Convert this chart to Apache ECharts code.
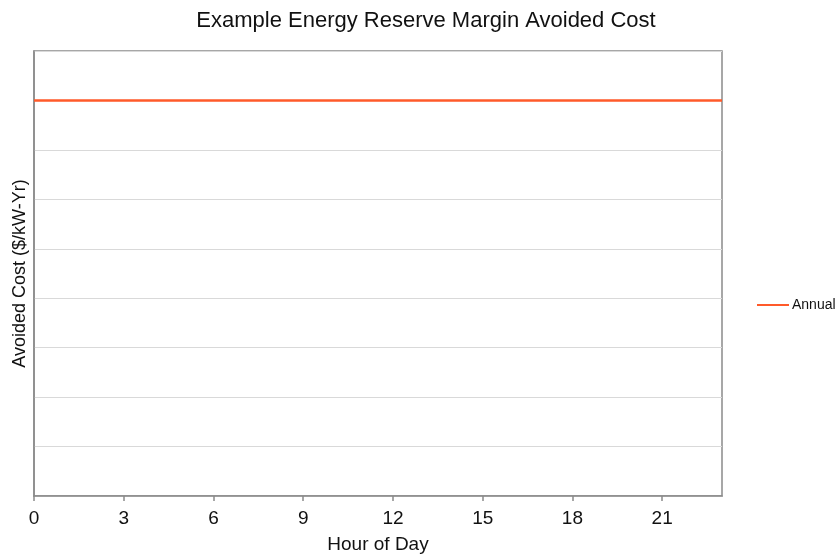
<!DOCTYPE html>
<html>
<head>
<meta charset="utf-8">
<script src="https://cdn.jsdelivr.net/npm/echarts@6/dist/echarts.min.js"></script>
<style>html,body{margin:0;padding:0;background:#fff;}#c{width:839px;height:557px;}</style>
</head>
<body>
<div id="c"></div>
<script>
const hours = ['0','1','2','3','4','5','6','7','8','9','10','11','12','13','14','15','16','17','18','19','20','21','22','23'];
const annual = [8,8,8,8,8,8,8,8,8,8,8,8,8,8,8,8,8,8,8,8,8,8,8,8];
const seriesName = 'Annual';

const chart = echarts.init(document.getElementById('c'), null, {renderer:'canvas'});
chart.setOption({
  animation: false,
  textStyle: {fontFamily: 'Liberation Sans, Arial, sans-serif'},
  title: {
    text: 'Example Energy Reserve Margin Avoided Cost',
    left: 421, top: 5, textAlign: 'center',
    textStyle: {fontSize: 22, fontWeight: 'normal', color: '#111', fontFamily: 'Liberation Sans, Arial, sans-serif'}
  },
  legend: {
    data: [seriesName],
    left: 752, top: 293,
    itemWidth: 32, itemHeight: 2, itemGap: 5,
    icon: 'rect',
    textStyle: {fontSize: 14, color: '#111', padding: [0,0,0,-2]}
  },
  grid: {
    left: 34, right: 117, top: 51, bottom: 61,
    outerBoundsMode: 'none',
    containLabel: false,
    show: true, borderColor: '#8a8a8a', borderWidth: 1.5, backgroundColor: '#fff'
  },
  xAxis: {
    type: 'category',
    data: hours,
    boundaryGap: false,
    name: 'Hour of Day',
    nameLocation: 'middle',
    nameGap: 39,
    nameTextStyle: {fontSize: 19, color: '#111'},
    axisLine: {lineStyle: {color: '#8a8a8a', width: 1.5}},
    axisTick: {interval: 2, length: 5, lineStyle: {color: '#8a8a8a', width: 1.5}},
    axisLabel: {interval: 2, fontSize: 19, color: '#111', margin: 13},
    splitLine: {show: false}
  },
  yAxis: {
    type: 'value',
    min: 0, max: 9, interval: 1,
    name: 'Avoided Cost ($/kW-Yr)',
    nameLocation: 'middle',
    nameGap: 5,
    nameTextStyle: {fontSize: 18, color: '#111'},
    axisLine: {show: true, lineStyle: {color: '#8a8a8a', width: 1.5}},
    axisTick: {show: false},
    axisLabel: {show: false},
    splitLine: {lineStyle: {color: '#d9d9d9', width: 1}}
  },
  series: [{
    name: seriesName,
    type: 'line',
    data: annual,
    symbol: 'none',
    lineStyle: {color: '#ff5a2a', width: 2.5},
    itemStyle: {color: '#ff5a2a'}
  }]
});
</script>
</body>
</html>
